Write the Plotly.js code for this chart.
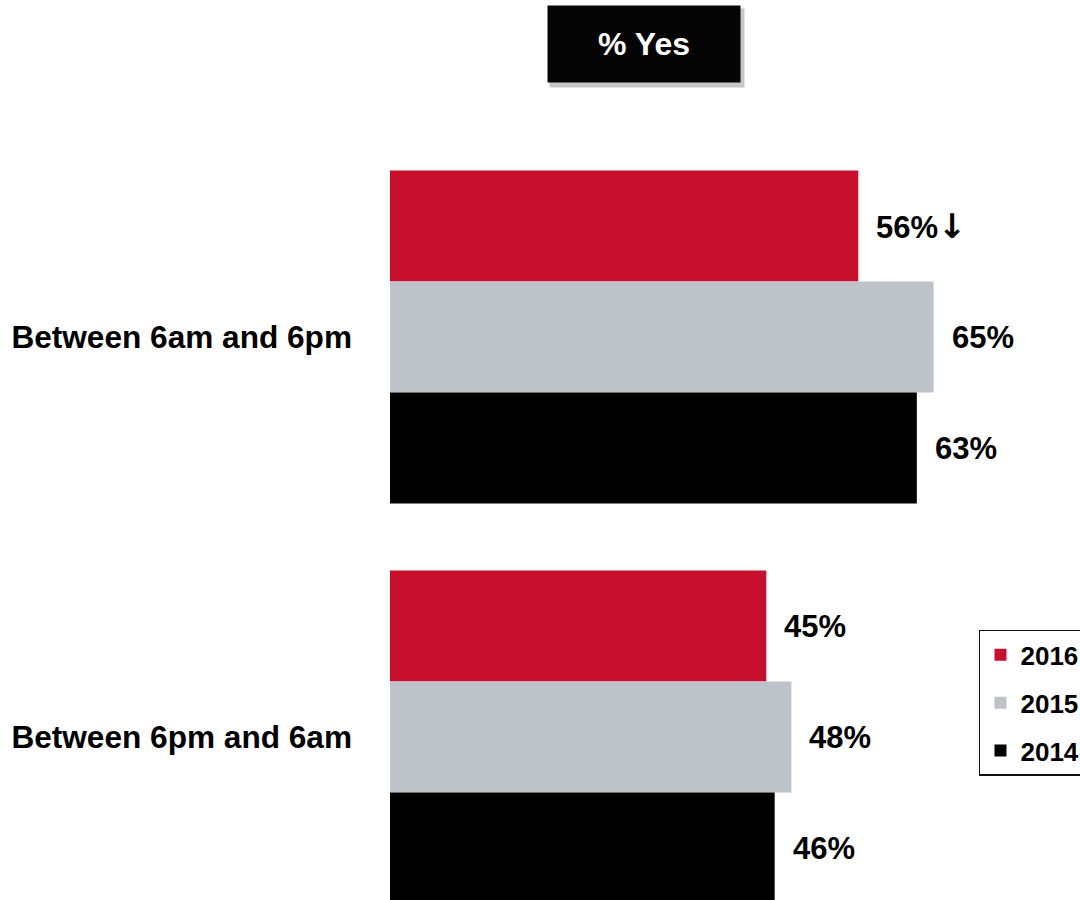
<!DOCTYPE html>
<html>
<head>
<meta charset="utf-8">
<script src="https://cdn.plot.ly/plotly-3.0.1.min.js"></script>
<style>html,body{margin:0;padding:0;background:#fff;}#chart{width:1080px;height:900px;}</style>
</head>
<body>
<div id="chart"></div>
<script>
const categories = ['Between 6am and 6pm', 'Between 6pm and 6am'];
const years = ['2016', '2015', '2014'];
const values2016 = [56, 45];
const values2015 = [65, 48];
const values2014 = [63, 46];
const labels2016 = ['56%', '45%'];
const labels2015 = ['65%', '48%'];
const labels2014 = ['63%', '46%'];
const arrows2016 = ['\u2193', ''];
const titleText = '% Yes';

const colors = ['#C8102E', '#BEC3CA', '#000000'];
const FONT = 'Liberation Sans, Arial, sans-serif';

const seriesVals = [values2016, values2015, values2014];
const seriesLabels = [labels2016, labels2015, labels2014];
const seriesArrows = [arrows2016, ['', ''], ['', '']];

const traces = years.map((yr, i) => ({
  type: 'bar',
  orientation: 'h',
  name: yr,
  legendgroup: yr,
  y: categories,
  x: seriesVals[i],
  marker: {color: colors[i], line: {width: 0}},
  hoverinfo: 'x+name'
}));

const barPx = 111;
const annotations = [];
// shadow + title box
annotations.push({
  xref: 'paper', yref: 'paper', x: 0.3797, y: 1.1219,
  xanchor: 'center', yanchor: 'middle',
  text: '', showarrow: false, bgcolor: 'rgba(0,0,0,0.22)',
  width: 194, height: 78, borderpad: 0, xshift: 3, yshift: -4
});
annotations.push({
  xref: 'paper', yref: 'paper', x: 0.3797, y: 1.1219,
  xanchor: 'center', yanchor: 'middle',
  text: '<b>' + titleText + '</b>', showarrow: false, bgcolor: '#050505',
  width: 192, height: 76, borderpad: 0,
  font: {family: FONT, size: 32, color: '#ffffff'}
});
years.forEach((yr, i) => {
  categories.forEach((c, j) => {
    const arrow = seriesArrows[i][j]
      ? '<span style="font-family:DejaVu Sans;font-weight:bold;font-size:34px">' + seriesArrows[i][j] + '</span>'
      : '';
    annotations.push({
      xref: 'x', yref: 'y', x: seriesVals[i][j], y: c,
      xanchor: 'left', yanchor: 'middle', xshift: 16, yshift: (1 - i) * barPx,
      text: '<b>' + seriesLabels[i][j] + '</b>' + arrow, showarrow: false,
      font: {family: FONT, size: 31, color: '#000000'}
    });
  });
});

const layout = {
  width: 1080, height: 900,
  margin: {l: 390, r: 21, t: 137, b: 0, autoexpand: false},
  paper_bgcolor: '#ffffff', plot_bgcolor: '#ffffff',
  barmode: 'group', bargap: 0.167, bargroupgap: 0,
  xaxis: {range: [0, 80], visible: false, showgrid: false, zeroline: false, fixedrange: true},
  yaxis: {
    type: 'category', range: [1.4075, -0.5], showgrid: false, zeroline: false,
    showline: false, ticks: '', ticklabelstandoff: 37,
    tickfont: {family: FONT, size: 31.6, color: '#000000', weight: 'bold'}
  },
  showlegend: true,
  legend: {
    x: 0.8804, y: 0.3539, xanchor: 'left', yanchor: 'top',
    bgcolor: '#ffffff', bordercolor: '#111111', borderwidth: 1.5,
    font: {family: FONT, size: 26, color: '#000000', weight: 'bold'},
    traceorder: 'grouped', tracegroupgap: 11, itemclick: false
  },
  annotations: annotations,
  font: {family: FONT}
};

Plotly.newPlot('chart', traces, layout, {displayModeBar: false, staticPlot: true});
</script>
</body>
</html>
